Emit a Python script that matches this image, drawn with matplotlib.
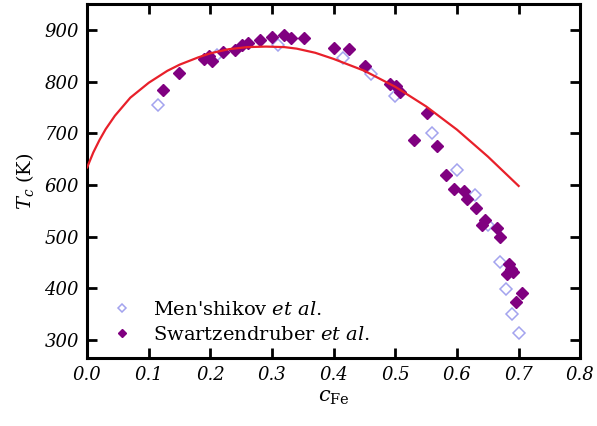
import matplotlib
matplotlib.use("Agg")
import matplotlib.pyplot as plt

plt.rcParams['font.family'] = ['DejaVu Serif']
plt.rcParams['mathtext.fontset'] = 'dejavuserif'

# Men'shikov et al. (open diamonds)
men_x = [0.115, 0.21, 0.31, 0.415, 0.46, 0.50, 0.56, 0.60, 0.63, 0.65, 0.67, 0.68, 0.69, 0.70]
men_y = [755, 852, 871, 845, 814, 773, 700, 629, 580, 522, 450, 399, 349, 313]

# Swartzendruber et al. (filled diamonds)
sw_x = [0.123, 0.149, 0.189, 0.197, 0.203, 0.221, 0.240, 0.251, 0.261, 0.281, 0.300, 0.320,
        0.331, 0.351, 0.401, 0.425, 0.451, 0.492, 0.501, 0.507, 0.531, 0.551, 0.567, 0.582,
        0.595, 0.612, 0.616, 0.631, 0.641, 0.646, 0.665, 0.670, 0.681, 0.684, 0.687, 0.691,
        0.695, 0.705]
sw_y = [784, 816, 843, 849, 841, 858, 861, 872, 874, 881, 887, 890,
        884, 885, 866, 863, 831, 795, 791, 780, 687, 740, 676, 619,
        593, 589, 572, 555, 522, 533, 516, 499, 428, 447, 437, 431,
        373, 391]

# model curve (red)
fit_x = [0.0, 0.01, 0.02, 0.03, 0.045, 0.07, 0.10, 0.13, 0.15, 0.18, 0.20, 0.23, 0.26, 0.29,
         0.32, 0.34, 0.37, 0.40, 0.45, 0.50, 0.55, 0.60, 0.65, 0.70]
fit_y = [634, 663, 687, 708, 734, 769, 798, 821, 833, 847, 855, 863, 867, 868,
         867, 864, 856, 844, 821, 790, 752, 707, 655, 598]

fig = plt.figure(figsize=(5.97, 4.26), dpi=100)
ax = fig.add_axes([0.146, 0.160, 0.826, 0.830])

ax.plot(fit_x, fit_y, color='#e8202a', lw=1.6, zorder=3)
ax.plot(men_x, men_y, 'D', ls='none', mfc='none', mec='#a3a3ee', mew=1.1, ms=6,
        label="Men'shikov $\\it{et\\ al.}$", zorder=2)
ax.plot(sw_x, sw_y, 'D', ls='none', color='#800080', mec='#800080', ms=6,
        label="Swartzendruber $\\it{et\\ al.}$", zorder=2)

ax.set_xlim(0, 0.8)
ax.set_ylim(265, 950)
ax.set_xticks([0.0, 0.1, 0.2, 0.3, 0.4, 0.5, 0.6, 0.7, 0.8])
ax.set_yticks([300, 400, 500, 600, 700, 800, 900])
ax.set_xticklabels(['0.0', '0.1', '0.2', '0.3', '0.4', '0.5', '0.6', '0.7', '0.8'])
ax.tick_params(direction='in', length=7, width=2, top=True, right=True,
               labelsize=13, pad=6)
for lab in ax.get_xticklabels() + ax.get_yticklabels():
    lab.set_fontstyle('italic')
for s in ax.spines.values():
    s.set_linewidth(2.2)

ax.set_xlabel('$c_{\\rm Fe}$', fontsize=15, labelpad=3)
ax.set_ylabel('$T_c$ (K)', fontsize=14, labelpad=6)

ax.legend(loc='lower left', bbox_to_anchor=(-0.005, -0.01), frameon=False, fontsize=14,
          handletextpad=0.6, labelspacing=0.35, markerscale=0.75)

fig.savefig('out.png', dpi=100)
